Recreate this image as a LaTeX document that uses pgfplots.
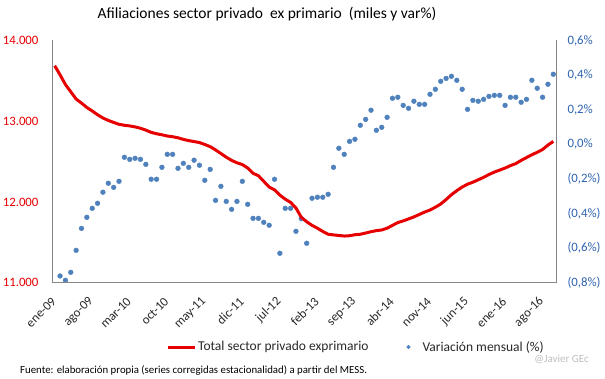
\documentclass[border=0pt]{standalone}
\usepackage{pgfplots}
\pgfplotsset{compat=1.18}
\usepackage{pgfplotstable}
\usepackage{fontspec}
\setmainfont{Carlito}
\definecolor{linered}{RGB}{230,0,0}
\definecolor{dotblue}{RGB}{79,129,189}
\definecolor{rlab}{RGB}{46,99,176}
\definecolor{axgray}{RGB}{134,134,134}
\definecolor{txt}{RGB}{40,40,40}
\pgfplotsset{linelegend/.style={legend image code/.code={\draw[##1] (0pt,0pt) -- (27pt,0pt);}}}
\pgfplotsset{dotlegend/.style={legend image code/.code={\path[draw=none,fill=none] (-4pt,-0.1pt) rectangle (12pt,0.1pt); \draw[##1, draw=none, only marks, mark=*] plot coordinates {(0pt,0pt)};}}}

\pgfplotstableread{
i val
0 13688
1 13575
2 13455
3 13365
4 13275
5 13225
6 13170
7 13127
8 13080
9 13040
10 13010
11 12985
12 12962
13 12950
14 12942
15 12930
16 12913
17 12890
18 12862
19 12845
20 12832
21 12817
22 12808
23 12795
24 12775
25 12760
26 12748
27 12736
28 12712
29 12685
30 12645
31 12600
32 12555
33 12515
34 12485
35 12463
36 12420
37 12355
38 12325
39 12255
40 12185
41 12150
42 12085
43 12035
44 11995
45 11925
46 11810
47 11755
48 11710
49 11675
50 11635
51 11600
52 11592
53 11585
54 11578
55 11582
56 11594
57 11600
58 11615
59 11632
60 11645
61 11653
62 11675
63 11710
64 11745
65 11765
66 11790
67 11815
68 11845
69 11875
70 11900
71 11935
72 11975
73 12030
74 12090
75 12140
76 12185
77 12220
78 12245
79 12275
80 12305
81 12340
82 12370
83 12395
84 12420
85 12450
86 12475
87 12515
88 12550
89 12585
90 12615
91 12650
92 12705
93 12750
}\totaltable

\pgfplotstableread{
i pct
1 -0.761
2 -0.786
3 -0.740
4 -0.613
5 -0.486
6 -0.422
7 -0.370
8 -0.341
9 -0.277
10 -0.225
11 -0.249
12 -0.214
13 -0.075
14 -0.087
15 -0.081
16 -0.087
17 -0.116
18 -0.202
19 -0.202
20 -0.133
21 -0.058
22 -0.058
23 -0.139
24 -0.110
25 -0.133
26 -0.092
27 -0.121
28 -0.208
29 -0.145
30 -0.324
31 -0.243
32 -0.330
33 -0.376
34 -0.330
35 -0.214
36 -0.347
37 -0.428
38 -0.428
39 -0.451
40 -0.468
41 -0.202
42 -0.630
43 -0.370
44 -0.370
45 -0.503
46 -0.430
47 -0.572
48 -0.312
49 -0.306
50 -0.306
51 -0.289
52 -0.133
53 -0.023
54 -0.058
55 0.017
56 0.029
57 0.110
58 0.144
59 0.197
60 0.081
61 0.098
62 0.156
63 0.266
64 0.272
65 0.225
66 0.208
67 0.249
68 0.231
69 0.231
70 0.289
71 0.318
72 0.364
73 0.381
74 0.393
75 0.370
76 0.318
77 0.202
78 0.254
79 0.249
80 0.260
81 0.277
82 0.283
83 0.283
84 0.225
85 0.272
86 0.272
87 0.243
88 0.260
89 0.370
90 0.324
91 0.272
92 0.347
93 0.405
}\vartable

\begin{document}
\begin{tikzpicture}[x=1pt,y=1pt]
\path[use as bounding box] (0,0) rectangle (605,378);
\pgfplotsset{
  common/.style={
    at={(52pt,95.3pt)}, anchor=south west,
    scale only axis, width=504pt, height=242.2pt,
    xmin=-0.5, xmax=93.5,
    major tick length=0pt, minor tick num=0,
    scaled y ticks=false, scaled x ticks=false,
    axis line style={axgray, line width=0.8pt},
    tick label style={font=\fontsize{12.8}{14}\selectfont},
    /pgf/number format/assume math mode=true,
    clip=false,
  }
}
\begin{axis}[common,
  ymin=-0.8, ymax=0.6,
  axis x line=none, axis y line*=right,
  ytick={-0.8,-0.6,-0.4,-0.2,0,0.2,0.4,0.6},
  yticklabels={{(0,8\%)},{(0,6\%)},{(0,4\%)},{(0,2\%)},{0,0\%},{0,2\%},{0,4\%},{0,6\%}},
  yticklabel style={text=rlab, anchor=west, xshift=8pt},
]
\addplot[only marks, mark=*, mark size=2.4pt, color=dotblue] table[x=i, y=pct] {\vartable};
\end{axis}
\begin{axis}[common,
  ymin=11000, ymax=14000,
  axis x line*=bottom, axis y line*=left,
  ytick={11000,12000,13000,14000},
  yticklabels={11.000,12.000,13.000,14.000},
  yticklabel style={text=linered, anchor=east, xshift=-10pt},
  xtick={0,7,14,21,28,35,42,49,56,63,70,77,84,91},
  xticklabels={ene-09,ago-09,mar-10,oct-10,may-11,dic-11,jul-12,feb-13,sep-13,abr-14,nov-14,jun-15,ene-16,ago-16},
  xticklabel style={text=txt, rotate=45, anchor=east, inner sep=1pt, xshift=-11.3pt, yshift=-11.3pt},
  legend columns=2,
  legend style={at={(0.603,-0.2655)}, anchor=center, draw=none, fill=none,
    font=\fontsize{13.5}{15}\selectfont, text=txt,
    /tikz/every even column/.append style={column sep=34pt},
    inner sep=0pt},
]
\addplot[color=linered, line width=3pt, line join=round, linelegend]
  table[x=i, y=val] {\totaltable};
\addlegendentry{Total sector privado exprimario}
\addlegendimage{only marks, mark=*, mark size=1.8pt, color=dotblue, dotlegend}
\addlegendentry{Variación mensual (\%)}
\end{axis}
\node[font=\fontsize{15.5}{17}\selectfont, text=black] at (267,364) {Afiliaciones sector privado\ \ ex primario\ \ (miles y var\%)};
\node[anchor=west, inner sep=0pt, font=\fontsize{10.8}{12}\selectfont, text=black] at (20,8) {Fuente: elaboración propia (series corregidas estacionalidad) a partir del MESS.};
\node[anchor=east, inner sep=0pt, font=\fontsize{11}{13}\selectfont, text={rgb,255:red,190;green,190;blue,190}] at (589,19) {@Javier GEc};
\end{tikzpicture}
\end{document}
